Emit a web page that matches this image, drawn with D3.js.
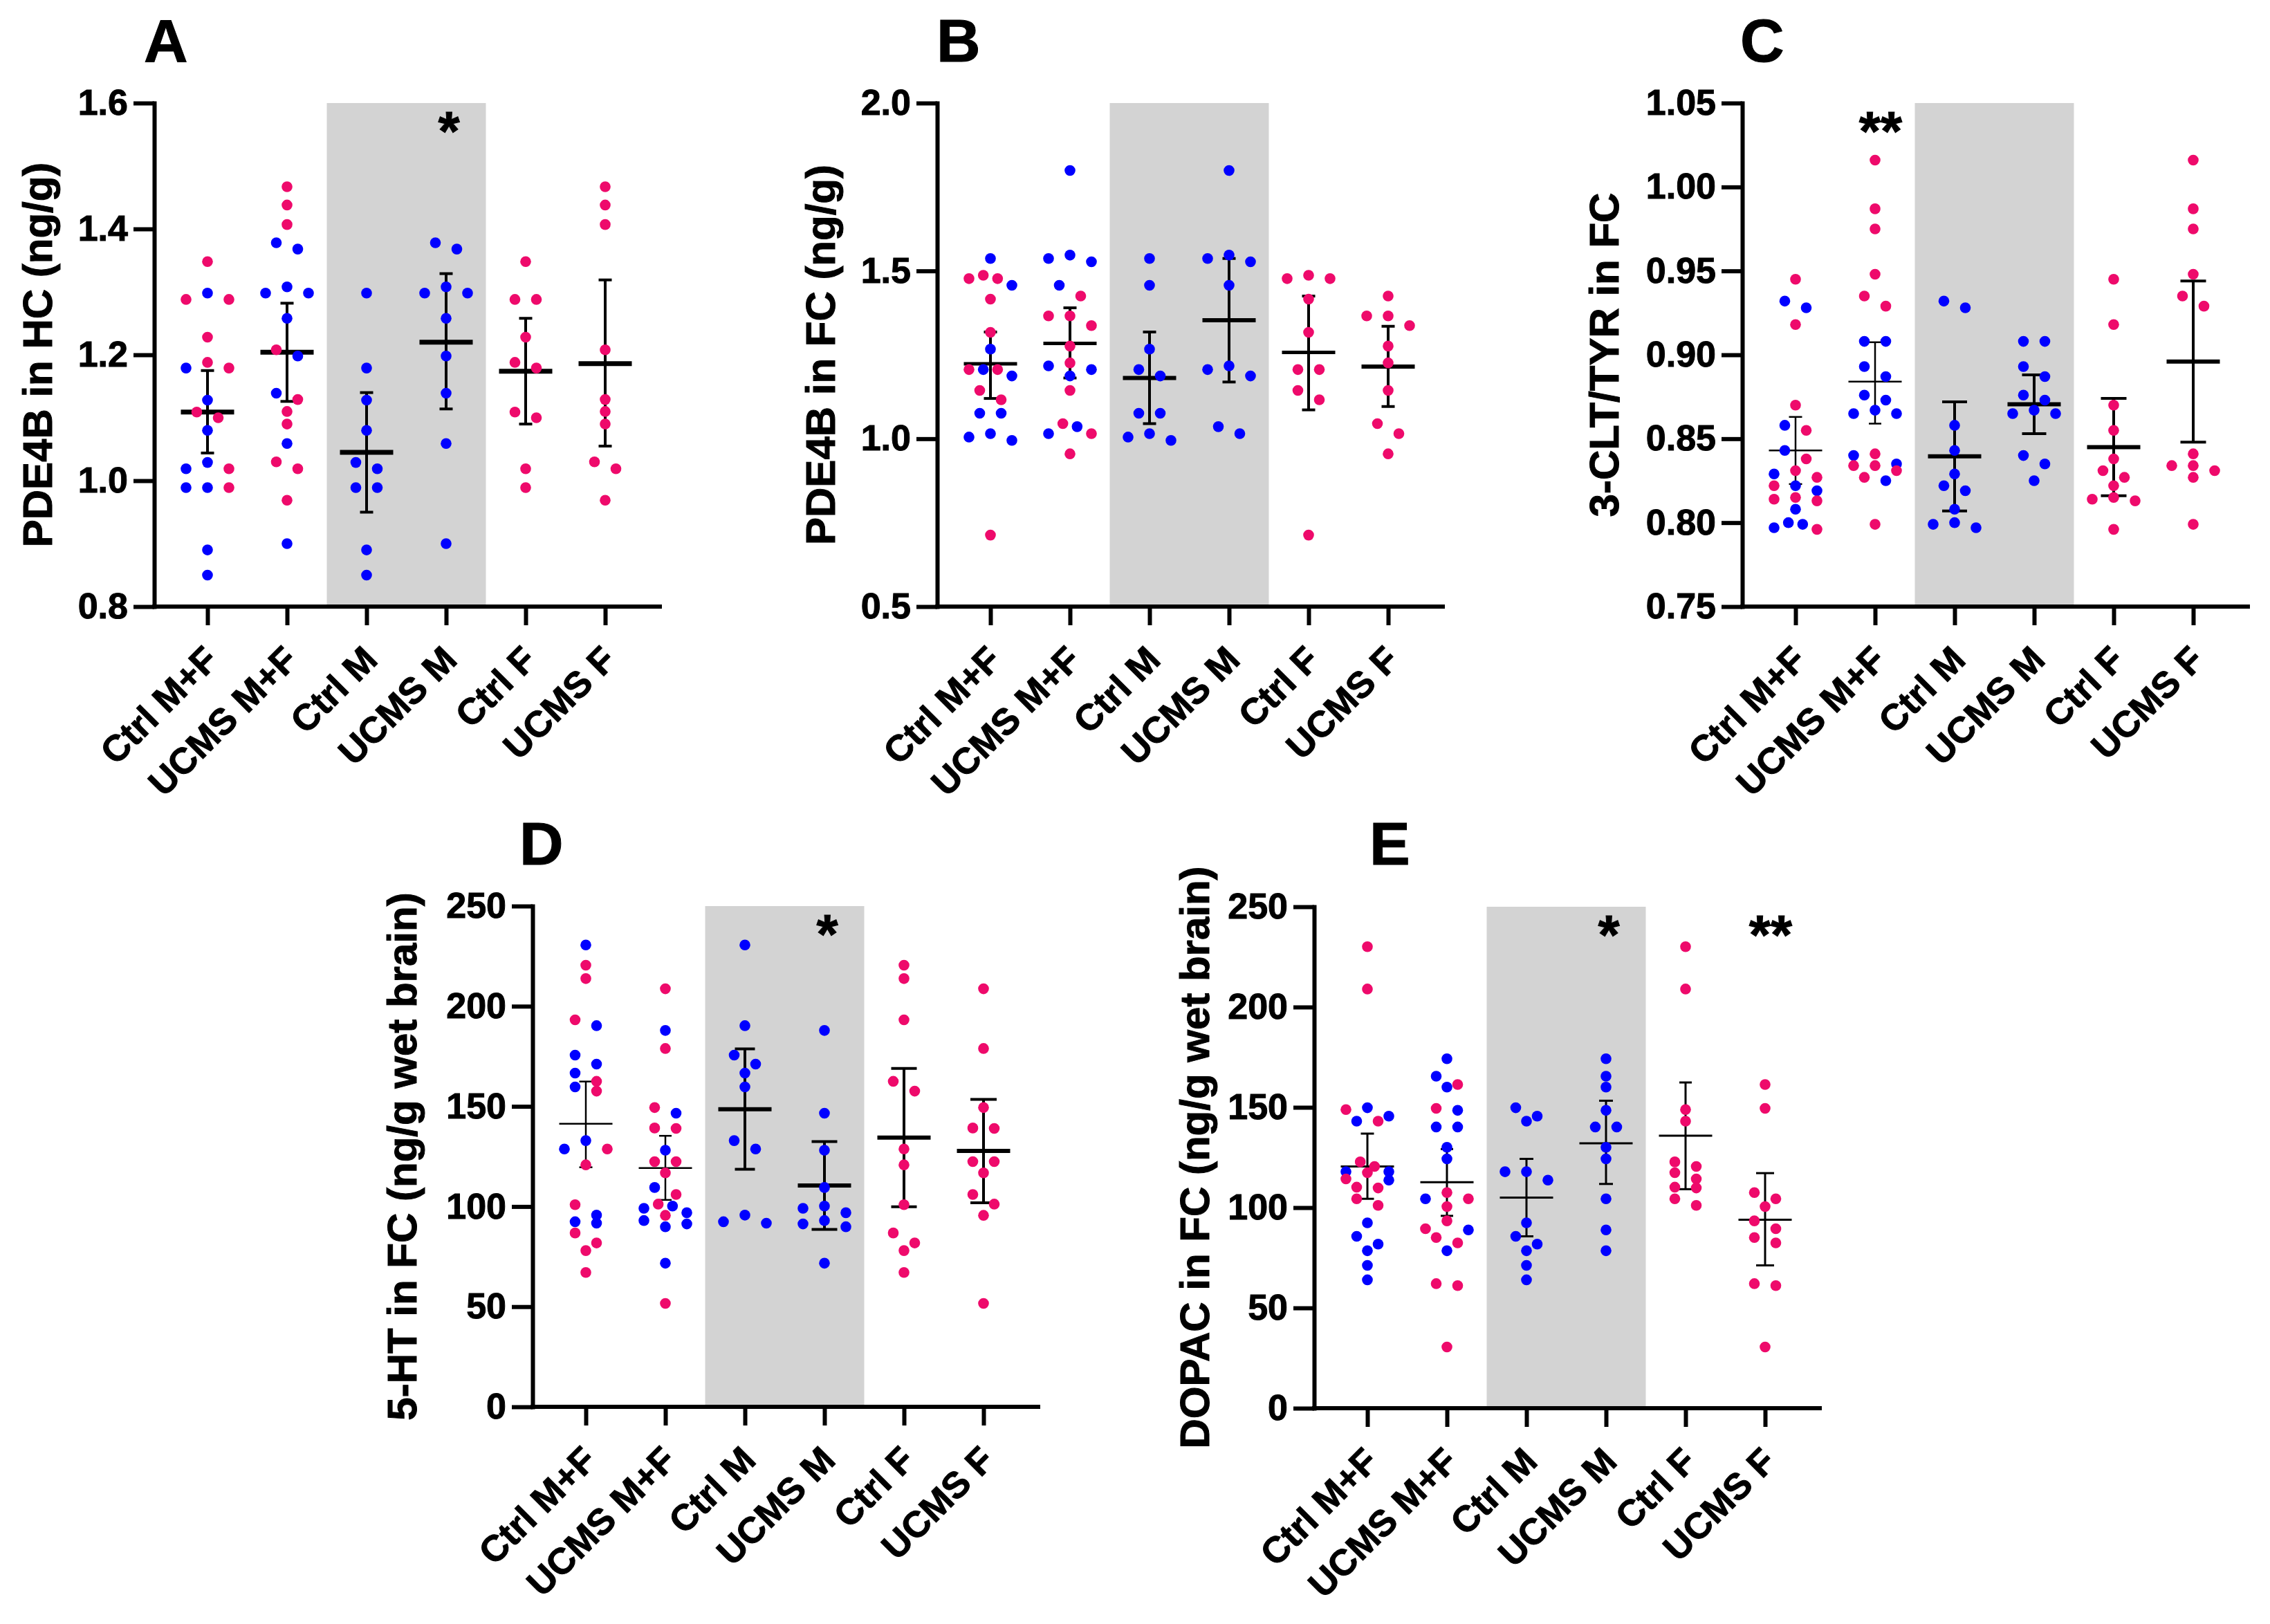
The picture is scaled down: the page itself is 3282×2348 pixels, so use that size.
<!DOCTYPE html>
<html>
<head>
<meta charset="utf-8">
<script src="https://cdn.jsdelivr.net/npm/d3@7"></script>
<style>
  body { margin: 0; background: #fff; }
  svg { display: block; }
  svg text { stroke: #000; stroke-width: 1px; }
</style>
</head>
<body>
<div id="fig"></div>
<script>
// Groups along the x axis (same for every panel)
const groups = ["Ctrl M+F", "UCMS M+F", "Ctrl M", "UCMS M", "Ctrl F", "UCMS F"];

const blue = "#0000ff";
const pink = "#ee0a6b";
const grey = "#d3d3d3";
const fontFam = '"Liberation Sans", Arial, Helvetica, sans-serif';

// ---- A : PDE4B in HC ----
const aCtrlM = [1.298, 1.179, 1.128, 1.080, 1.029, 1.019, 0.989, 0.989, 0.890, 0.850];
const aUcmsM = [1.378, 1.368, 1.308, 1.298, 1.298, 1.258, 1.198, 1.139, 1.059, 0.900];
const aCtrlF = [1.348, 1.288, 1.288, 1.228, 1.188, 1.179, 1.109, 1.100, 1.019, 0.989];
const aUcmsF = [1.467, 1.438, 1.407, 1.208, 1.129, 1.110, 1.090, 1.030, 1.019, 0.969];
const aMean = [1.109, 1.204, 1.045, 1.220, 1.174, 1.186];
const aLow  = [1.044, 1.126, 0.950, 1.114, 1.090, 1.055];
const aHigh = [1.175, 1.282, 1.140, 1.329, 1.258, 1.319];
const aTicks = [0.8, 1.0, 1.2, 1.4, 1.6];
const aTickLabels = ["0.8", "1.0", "1.2", "1.4", "1.6"];
const aStars = [["UCMS M", "*"]];

// ---- B : PDE4B in FC ----
const bCtrlM = [1.537, 1.457, 1.267, 1.206, 1.187, 1.076, 1.076, 1.015, 1.005, 0.995];
const bUcmsM = [1.799, 1.547, 1.537, 1.527, 1.457, 1.217, 1.206, 1.187, 1.036, 1.015];
const bCtrlF = [1.487, 1.477, 1.477, 1.416, 1.317, 1.206, 1.206, 1.144, 1.116, 0.713];
const bUcmsF = [1.425, 1.366, 1.366, 1.337, 1.276, 1.226, 1.144, 1.045, 1.015, 0.955];
const bMean = [1.223, 1.284, 1.181, 1.353, 1.257, 1.215];
const bLow  = [1.120, 1.181, 1.045, 1.169, 1.086, 1.096];
const bHigh = [1.318, 1.390, 1.318, 1.537, 1.425, 1.335];
const bTicks = [0.5, 1.0, 1.5, 2.0];
const bTickLabels = ["0.5", "1.0", "1.5", "2.0"];
const bStars = [];

// ---- C : 3-CLT/TYR in FC ----
const cCtrlM = [0.932, 0.928, 0.858, 0.843, 0.829, 0.822, 0.819, 0.808, 0.800, 0.799, 0.797];
const cUcmsM = [0.908, 0.908, 0.893, 0.887, 0.876, 0.873, 0.867, 0.865, 0.865, 0.840, 0.835, 0.825];
const cCtrlF = [0.945, 0.918, 0.870, 0.855, 0.838, 0.831, 0.827, 0.822, 0.815, 0.814, 0.813, 0.796];
const cUcmsF = [1.016, 0.987, 0.975, 0.948, 0.935, 0.929, 0.841, 0.834, 0.834, 0.831, 0.827, 0.799];
const cMean = [0.843, 0.884, 0.8395, 0.8705, 0.845, 0.896];
const cLow  = [0.823, 0.859, 0.807, 0.853, 0.816, 0.848];
const cHigh = [0.863, 0.9075, 0.872, 0.888, 0.874, 0.944];
const cTicks = [0.75, 0.80, 0.85, 0.90, 0.95, 1.00, 1.05];
const cTickLabels = ["0.75", "0.80", "0.85", "0.90", "0.95", "1.00", "1.05"];
const cStars = [["UCMS M+F", "**"]];

// ---- D : 5-HT in FC ----
const dCtrlM = [230.6, 190.3, 175.6, 171.1, 166.6, 159.7, 132.9, 128.7, 95.7, 92.4, 91.7];
const dUcmsM = [187.9, 146.6, 128.1, 109.5, 100.2, 99.1, 96.9, 93.0, 91.3, 89.9, 71.7];
const dCtrlF = [220.5, 213.8, 193.2, 162.5, 157.6, 128.7, 120.8, 100.9, 86.8, 81.8, 78.0, 67.1];
const dUcmsF = [208.7, 178.9, 149.4, 139.2, 139.0, 122.4, 122.4, 116.8, 106.0, 101.2, 95.6, 51.6];
const dMean = [141.3, 119.2, 148.6, 110.5, 134.4, 127.8];
const dLow  = [119.6, 103.3, 118.6, 88.6, 99.9, 101.9];
const dHigh = [162.4, 135.3, 178.7, 132.4, 168.9, 153.5];
const dTicks = [0, 50, 100, 150, 200, 250];
const dTickLabels = ["0", "50", "100", "150", "200", "250"];
const dStars = [["UCMS M", "*"]];

// ---- E : DOPAC in FC ----
const eCtrlM = [149.8, 145.6, 143.1, 117.9, 117.9, 113.7, 92.4, 85.7, 81.8, 78.5, 71.2, 64.0];
const eUcmsM = [174.2, 165.5, 160.1, 148.5, 140.2, 140.2, 130.1, 124.3, 104.4, 88.9, 78.5];
const eCtrlF = [230.1, 209.0, 148.9, 143.1, 122.8, 120.5, 117.4, 114.3, 110.2, 109.8, 104.4, 101.1];
const eUcmsF = [161.4, 149.5, 107.5, 104.4, 100.5, 93.4, 89.5, 85.1, 82.4, 62.1, 61.1, 30.5];
const eMean = [120.5, 112.7, 105.0, 132.1, 135.9, 94.0];
const eLow  = [104.4, 95.9, 85.7, 111.8, 109.2, 71.2];
const eHigh = [136.9, 129.2, 124.3, 153.3, 162.4, 117.2];
const eTicks = [0, 50, 100, 150, 200, 250];
const eTickLabels = ["0", "50", "100", "150", "200", "250"];
const eStars = [["UCMS M", "*"], ["UCMS F", "**"]];

// layout of the five panels (pixels) + line weights per group
const panels = [
  { letter: "A", title: "PDE4B in HC (ng/g)", ctrlM: aCtrlM, ucmsM: aUcmsM, ctrlF: aCtrlF, ucmsF: aUcmsF,
    mean: aMean, low: aLow, high: aHigh, ticks: aTicks, tickLabels: aTickLabels, stars: aStars,
    x0: 223, top: 149, bottom: 877, titleOff: 148, lx: 208, ly: 89,
    meanW: [7, 7, 7, 7, 7, 7], capW: [19, 19, 19, 19, 19, 19], errW: [4, 4, 4, 4, 4, 4] },
  { letter: "B", title: "PDE4B in FC (ng/g)", ctrlM: bCtrlM, ucmsM: bUcmsM, ctrlF: bCtrlF, ucmsF: bUcmsF,
    mean: bMean, low: bLow, high: bHigh, ticks: bTicks, tickLabels: bTickLabels, stars: bStars,
    x0: 1355, top: 149, bottom: 877, titleOff: 148, lx: 1354, ly: 89,
    meanW: [5, 5, 6, 6, 5, 6], capW: [19, 19, 19, 19, 19, 19], errW: [4, 4, 4, 4, 4, 4] },
  { letter: "C", title: "3-CLT/TYR in FC", ctrlM: cCtrlM, ucmsM: cUcmsM, ctrlF: cCtrlF, ucmsF: cUcmsF,
    mean: cMean, low: cLow, high: cHigh, ticks: cTicks, tickLabels: cTickLabels, stars: cStars,
    x0: 2519, top: 149, bottom: 877, titleOff: 179, lx: 2516, ly: 89,
    meanW: [2.5, 2.5, 6, 6, 6, 6], capW: [19, 18, 36, 35, 37, 37], errW: [2.5, 2.5, 4, 4, 4, 4] },
  { letter: "D", title: "5-HT in FC (ng/g wet brain)", ctrlM: dCtrlM, ucmsM: dUcmsM, ctrlF: dCtrlF, ucmsF: dUcmsF,
    mean: dMean, low: dLow, high: dHigh, ticks: dTicks, tickLabels: dTickLabels, stars: dStars,
    x0: 770, top: 1310, bottom: 2034, titleOff: 168, lx: 751, ly: 1250,
    meanW: [2.5, 2.5, 6, 6, 6, 6], capW: [19, 18, 29, 37, 37, 38], errW: [2.5, 2.5, 4, 4, 4, 4] },
  { letter: "E", title: "DOPAC in FC (ng/g wet brain)", ctrlM: eCtrlM, ucmsM: eUcmsM, ctrlF: eCtrlF, ucmsF: eUcmsF,
    mean: eMean, low: eLow, high: eHigh, ticks: eTicks, tickLabels: eTickLabels, stars: eStars,
    x0: 1900, top: 1311, bottom: 2036, titleOff: 152, lx: 1980, ly: 1250,
    meanW: [3, 3, 3, 3, 3, 3], capW: [19, 18, 20, 20, 18, 26], errW: [3, 3, 3, 3, 3, 3] }
];

const W = 3282, H = 2348;
const R = 7.8;          // dot radius
const halfMean = 38.5;  // half length of mean line

// GraphPad-like scatter: rows of close values spread symmetrically
function swarm(points, y, cx) {
  const pts = points.map(p => ({ ...p, py: y(p.v) }));
  pts.sort((a, b) => a.py - b.py);
  const rows = [];
  let row = null;
  for (const p of pts) {
    if (row && p.py - row[0].py < 2 * R && row.length < 5) row.push(p);
    else { row = [p]; rows.push(row); }
  }
  const out = [];
  for (const r of rows) {
    const n = r.length;
    const s = n === 1 ? 0 : Math.min(31, 62 / (n - 1));
    const slots = d3.range(n).map(k => (k - (n - 1) / 2) * s)
      .sort((a, b) => Math.abs(a) - Math.abs(b) || a - b);
    r.forEach((p, i) => out.push({ x: cx + slots[i], y: p.py, c: p.c }));
  }
  return out;
}

const svg = d3.select("#fig").append("svg")
  .attr("width", W)
  .attr("height", H)
  .attr("viewBox", [0, 0, W, H]);

svg.append("rect").attr("width", W).attr("height", H).attr("fill", "#fff");

panels.forEach(p => {
  const y = d3.scaleLinear()
    .domain([p.ticks[0], p.ticks[p.ticks.length - 1]])
    .range([p.bottom, p.top]);
  const x = d3.scalePoint()
    .domain(groups)
    .range([p.x0 + 77, p.x0 + 77 + 115 * (groups.length - 1)]);
  const xEnd = x(groups[groups.length - 1]) + 82;

  const g = svg.append("g");

  // shaded male block
  const bx0 = (x(groups[1]) + x(groups[2])) / 2;
  const bx1 = (x(groups[3]) + x(groups[4])) / 2;
  g.append("rect")
    .attr("x", bx0).attr("width", bx1 - bx0)
    .attr("y", p.top).attr("height", p.bottom - p.top)
    .attr("fill", grey);

  // y axis
  g.append("g")
    .attr("transform", `translate(${p.x0},0)`)
    .call(d3.axisLeft(y).tickValues(p.ticks).tickFormat((d, i) => p.tickLabels[i])
      .tickSize(30).tickSizeOuter(0).tickPadding(8))
    .call(a => a.selectAll("line, path").attr("stroke", "#000").attr("stroke-width", 6))
    .call(a => a.select(".domain").attr("stroke-linecap", "square"))
    .call(a => a.selectAll("text")
      .attr("font-size", 52).attr("font-family", fontFam)
      .attr("font-weight", "bold").attr("fill", "#000"));

  // x axis
  const xa = g.append("g")
    .attr("transform", `translate(0,${p.bottom})`)
    .call(d3.axisBottom(x).tickSize(27).tickSizeOuter(0));
  xa.select(".domain").remove();
  xa.append("line")
    .attr("x1", p.x0 - 3).attr("x2", xEnd)
    .attr("stroke", "#000").attr("stroke-width", 6);
  xa.selectAll(".tick line").attr("stroke", "#000").attr("stroke-width", 6);
  xa.selectAll(".tick text")
    .attr("font-size", 53).attr("font-family", fontFam)
    .attr("font-weight", "bold").attr("fill", "#000")
    .attr("text-anchor", "end")
    .attr("x", 0).attr("y", 0).attr("dy", 0)
    .attr("transform", "translate(18,80) rotate(-45)");

  // error bars + means (under the dots)
  const eb = g.append("g").attr("stroke", "#000");
  groups.forEach((name, i) => {
    const cx = x(name);
    eb.append("line")
      .attr("x1", cx).attr("x2", cx)
      .attr("y1", y(p.low[i])).attr("y2", y(p.high[i]))
      .attr("stroke-width", p.errW[i]);
    [p.low[i], p.high[i]].forEach(v => {
      eb.append("line")
        .attr("x1", cx - p.capW[i] / 2).attr("x2", cx + p.capW[i] / 2)
        .attr("y1", y(v)).attr("y2", y(v))
        .attr("stroke-width", p.errW[i]);
    });
    eb.append("line")
      .attr("x1", cx - halfMean).attr("x2", cx + halfMean)
      .attr("y1", y(p.mean[i])).attr("y2", y(p.mean[i]))
      .attr("stroke-width", p.meanW[i]);
  });

  // individual animals (M blue, F pink); pooled groups are the union
  const tag = (vals, c) => vals.map(v => ({ v, c }));
  const sets = [
    tag(p.ctrlM, blue).concat(tag(p.ctrlF, pink)),
    tag(p.ucmsM, blue).concat(tag(p.ucmsF, pink)),
    tag(p.ctrlM, blue),
    tag(p.ucmsM, blue),
    tag(p.ctrlF, pink),
    tag(p.ucmsF, pink)
  ];
  sets.forEach((set, i) => {
    g.append("g").selectAll("circle")
      .data(swarm(set, y, x(groups[i])))
      .join("circle")
      .attr("cx", d => d.x)
      .attr("cy", d => d.y)
      .attr("r", R)
      .attr("fill", d => d.c);
  });

  // significance stars
  p.stars.forEach(([name, t]) => {
    g.append("text")
      .attr("x", x(name) + (t.length > 1 ? 8 : 4))
      .attr("y", p.top + 68)
      .attr("text-anchor", "middle")
      .attr("font-size", 80).attr("font-family", fontFam).attr("font-weight", "bold")
      .text(t);
  });

  // y title
  g.append("text")
    .attr("transform", `translate(${p.x0 - p.titleOff},${(p.top + p.bottom) / 2}) rotate(-90)`)
    .attr("text-anchor", "middle")
    .attr("font-size", 60).attr("font-family", fontFam).attr("font-weight", "bold")
    .text(p.title);

  // panel letter
  g.append("text")
    .attr("x", p.lx).attr("y", p.ly)
    .attr("font-size", 88).attr("font-family", fontFam).attr("font-weight", "bold")
    .text(p.letter);
});
</script>
</body>
</html>
